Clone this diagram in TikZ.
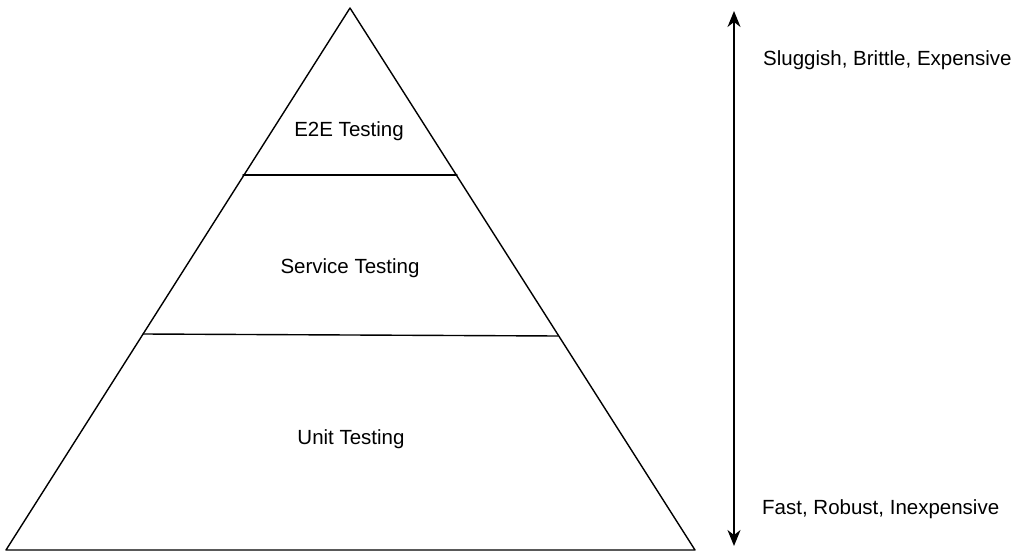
\documentclass[tikz,border=0pt]{standalone}
\usepackage{fontspec}
\setmainfont{Liberation Sans}
\usetikzlibrary{arrows.meta}

\begin{document}
\begin{tikzpicture}[line cap=round,line join=round,>={Stealth[length=16pt,width=13pt,inset=5pt]},x=1pt,y=-1pt,
  layer/.style={font=\fontsize{20.5}{24}\selectfont},
  side/.style={font=\fontsize{20.5}{24}\selectfont,anchor=west,inner sep=0pt}]
\useasboundingbox (0,0) rectangle (1019,556);
% pyramid
\coordinate (apex) at (350,8);
\coordinate (bl) at (6,550);
\coordinate (br) at (695,550);
\draw[line width=1.4pt] (apex) -- (bl) -- (br) -- cycle;
\coordinate (l1) at (243,175);
\coordinate (r1) at (457,175);
\coordinate (l2) at (143,334);
\coordinate (r2) at (558,336);
\draw[line width=1.4pt] (l1) -- (r1);
\draw[line width=1.4pt] (l2) -- (r2);
\node[layer] (e2e) at (349,131) {E2E Testing};
\node[layer] (service) at (350,268) {Service Testing};
\node[layer] (unit) at (351,439) {Unit Testing};
% scale arrow
\coordinate (top) at (734,11);
\coordinate (bot) at (734,546);
\draw[<->,line width=1.4pt] (bot) -- (top);
\node[side] (slow) at (763,60) {Sluggish, Brittle, Expensive};
\node[side] (fast) at (762,509) {Fast, Robust, Inexpensive};
\end{tikzpicture}
\end{document}
